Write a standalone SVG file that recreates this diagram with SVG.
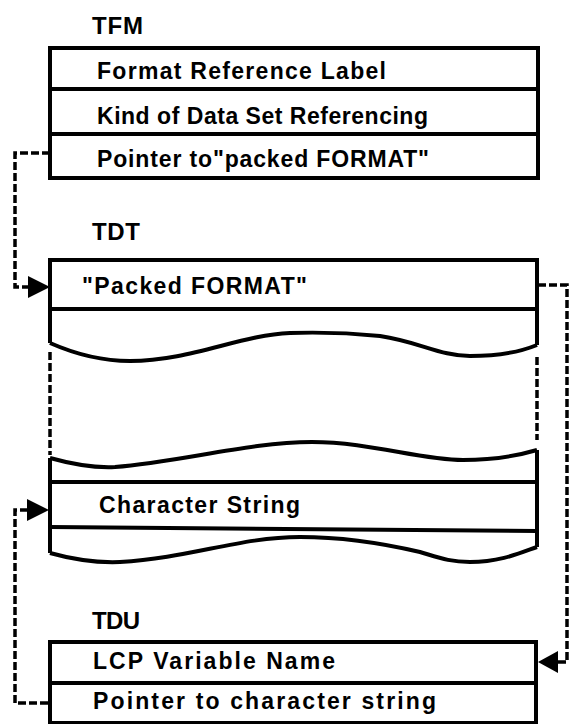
<svg xmlns="http://www.w3.org/2000/svg" width="576" height="724" viewBox="0 0 576 724">
<style>
.box{fill:none;stroke:#000;stroke-width:4;stroke-linejoin:miter}
.ln{fill:none;stroke:#000;stroke-width:4}
.dash{fill:none;stroke:#000;stroke-width:3.5;stroke-dasharray:8 3}
.head{fill:#000;stroke:none}
text{font-family:"Liberation Sans","DejaVu Sans",Arial,sans-serif;font-weight:bold;font-size:23px;fill:#000}
.ttl{font-size:24px}
</style>
<rect width="576" height="724" fill="#fff"/>
<g id="TFM">
<text class="ttl" x="92" y="34" textLength="51" lengthAdjust="spacing">TFM</text>
<rect class="box" x="50" y="48" width="488" height="130"/>
<line class="ln" x1="50" y1="89" x2="538" y2="89"/>
<line class="ln" x1="50" y1="134" x2="538" y2="134"/>
<text x="97" y="79" textLength="289" lengthAdjust="spacing">Format  Reference  Label</text>
<text x="97" y="124" textLength="331" lengthAdjust="spacing">Kind of Data Set Referencing</text>
<text x="97" y="167" textLength="332" lengthAdjust="spacing">Pointer to"packed FORMAT"</text>
</g>
<g id="TDT">
<text class="ttl" x="92" y="240" textLength="48" lengthAdjust="spacing">TDT</text>
<path class="box" d="M50,343 V260 H537 V345"/>
<line class="ln" x1="50" y1="309" x2="537" y2="309"/>
<path class="ln" d="M50,343 C75,354 100,361 130,361 C190,361 240,335 290,333 C320,332 350,333 380,336 C420,342 440,356 470,356 C500,356 520,352 537,345"/>
<text x="82" y="294" textLength="225" lengthAdjust="spacing">"Packed FORMAT"</text>
<path class="box" d="M50,458 V553 M537,450 V547"/>
<path class="ln" d="M50,458 C75,465 95,468 115,467 C180,462 250,442 312,442 C370,442 420,460 463,460 C495,460 520,455 537,450"/>
<line class="ln" x1="50" y1="482" x2="537" y2="482"/>
<line class="ln" x1="50" y1="527" x2="537" y2="531"/>
<path class="ln" d="M50,553 C75,560 95,563 120,562 C190,558 240,537 300,537 C350,537 390,545 420,552 C440,558 450,562 470,562 C500,562 520,553 537,547"/>
<text x="99" y="513" textLength="201" lengthAdjust="spacing">Character  String</text>
</g>
<g id="TDU">
<text class="ttl" x="92" y="629" textLength="48" lengthAdjust="spacing">TDU</text>
<rect class="box" x="50" y="642" width="486" height="81"/>
<line class="ln" x1="50" y1="683" x2="536" y2="683"/>
<text x="93" y="669" textLength="242" lengthAdjust="spacing">LCP Variable  Name</text>
<text x="93" y="709" textLength="343" lengthAdjust="spacing">Pointer  to  character  string</text>
</g>
<g id="connectors">
<path class="dash" d="M50,153 H15 V287 H30"/>
<polygon class="head" points="28,276 50,287 28,298"/>
<path class="dash" d="M50,352 V455"/>
<path class="dash" d="M537,357 V440"/>
<path class="dash" d="M538,285 H567 V662 H555"/>
<polygon class="head" points="558,651 538,662 558,673"/>
<path class="dash" d="M48,703 H15 V510 H28"/>
<polygon class="head" points="27,499 49,510 27,521"/>
</g>
</svg>
